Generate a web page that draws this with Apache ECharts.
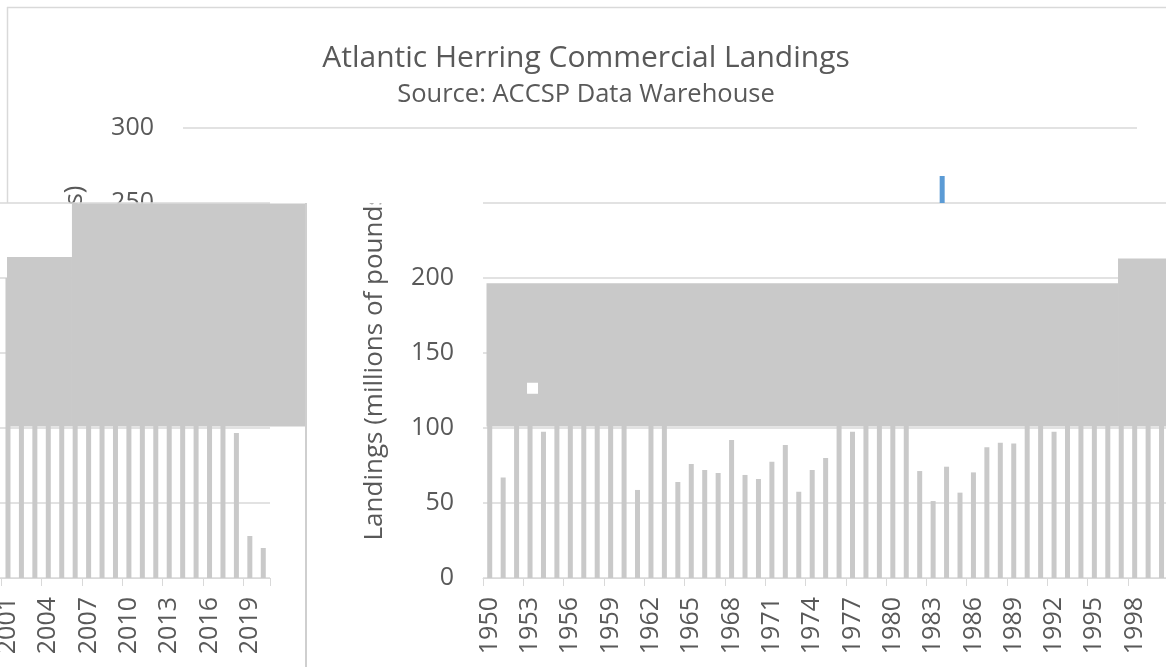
<!DOCTYPE html>
<html>
<head>
<meta charset="utf-8">
<script src="https://cdn.jsdelivr.net/npm/echarts@6/dist/echarts.min.js"></script>
<style>
html,body{margin:0;padding:0;background:#ffffff;overflow:hidden;}
#frame{position:relative;width:1166px;height:667px;overflow:hidden;}
#chart{position:absolute;top:0;height:667px;}
</style>
</head>
<body>
<div id="frame"><div id="chart"></div></div>
<script>
// ---------------- data ----------------
const years = [];
for (let y = 1950; y <= 2020; y++) years.push(String(y));

// Landings, millions of pounds (values hidden under the grey band are estimates)
const landings = [
  130, 67, 150, 160, 97.5, 140, 135, 150, 120, 170,   // 1950-1959
  155, 58.7, 105, 130, 64, 76, 72, 70, 92, 68.7,      // 1960-1969
  66, 77.5, 88.7, 57.5, 72, 80, 110, 97.5, 105, 108,  // 1970-1979
  115, 120, 71.3, 51.3, 74.2, 56.9, 70.4, 87.1, 90.2, 89.6, // 1980-1989
  105, 110, 97.5, 115, 125, 150, 170, 200, 205, 200,  // 1990-1999
  195, 200, 190, 205, 200, 195, 268, 180, 190, 230,   // 2000-2009
  150, 185, 190, 200, 200, 160, 135, 105, 96.7, 28,   // 2010-2019
  20                                                  // 2020
];
const highlightYear = '2006';

const titleText = 'Atlantic Herring Commercial Landings';
const subtitleText = 'Source: ACCSP Data Warehouse';
const yAxisTitle = 'Landings (millions of pounds)';

// grey band segments: grid (1 = right panel, 2 = left panel), category index range, value range
const bandSegments = [
  { grid: 1, fromIdx: 0,    toIdx: 47,   low: 101, high: 196.5 },
  { grid: 1, fromIdx: 47,   toIdx: null, low: 101, high: 213 },
  { grid: 2, fromIdx: null, toIdx: 56,   low: 101, high: 214 },
  { grid: 2, fromIdx: 56,   toIdx: null, low: 101, high: 250 }
];

// ---------------- styles / layout ----------------
const W = 1166, H = 667;
const OX = 700;                 // canvas extends this far left of the visible frame
const CW = OX + 1166 + 300;     // canvas width (right panel runs past the frame)
const CUT = 203;
const FONT = "'Open Sans', 'Noto Sans', sans-serif";
const TXT = '#595959';
const GRID_C = '#d9d9d9';
const BAR_C = '#c9c9c9';
const BLUE = '#5b9bd5';

const el = document.getElementById('chart');
el.style.left = (-OX) + 'px';
el.style.width = CW + 'px';
const chart = echarts.init(el, null, { renderer: 'canvas', width: CW, height: H });

const topBarData = landings.map((v, i) => years[i] === highlightYear ? { value: v, itemStyle: { color: BLUE } } : v);

function xAxisFor(gi, show, z, labelFilter) {
  return {
    type: 'category', gridIndex: gi, data: years, z: z,
    axisLine: { show: show, lineStyle: { color: GRID_C, width: 1 } },
    axisTick: { show: show, length: 8, lineStyle: { color: GRID_C } },
    axisLabel: {
      show: show, rotate: 90, margin: 19, fontSize: 25, color: TXT, fontFamily: FONT,
      interval: (idx) => idx % 3 === 0 && labelFilter(idx)
    },
    splitLine: { show: false }
  };
}
function yAxisFor(gi, min, max, z, extra) {
  return Object.assign({
    type: 'value', gridIndex: gi, min: min, max: max, interval: 50, z: z,
    axisLine: { show: false }, axisTick: { show: false },
    splitLine: { show: true, lineStyle: { color: GRID_C, width: 1.5 } }
  }, extra);
}
function barSeries(gi, data) {
  return {
    type: 'bar', xAxisIndex: gi, yAxisIndex: gi, data: data, barWidth: 5,
    itemStyle: { color: BAR_C }, z: 3, clip: true, animation: false
  };
}

const option = {
  animation: false,
  backgroundColor: '#ffffff',
  title: {
    text: titleText, subtext: subtitleText, left: OX + 581, textAlign: 'center', top: 38, itemGap: 9,
    textStyle: { fontFamily: FONT, fontSize: 30, fontWeight: 'normal', color: TXT },
    subtextStyle: { fontFamily: FONT, fontSize: 25.5, color: TXT }
  },
  grid: [
    { left: OX + 183, top: 128, width: 954, height: 75 },
    { left: OX + 483, top: CUT, width: 954, height: 375 },
    { left: OX - 684, top: CUT, width: 954, height: 375 }
  ],
  xAxis: [
    xAxisFor(0, false, 0, () => false),
    xAxisFor(1, true, 2, (i) => i <= 50),
    xAxisFor(2, true, 2, (i) => i >= 51)
  ],
  yAxis: [
    yAxisFor(0, 250, 300, 0, {
      splitLine: { show: true, showMinLine: false, lineStyle: { color: GRID_C, width: 1.5 } },
      axisLabel: { margin: 29, fontSize: 25, color: TXT, fontFamily: FONT }
    }),
    yAxisFor(1, 0, 250, 2, {
      axisLabel: { margin: 29, fontSize: 25, color: TXT, fontFamily: FONT, showMaxLabel: false }
    }),
    yAxisFor(2, 0, 250, 2, { axisLabel: { show: false } })
  ],
  series: [barSeries(0, topBarData), barSeries(1, landings), barSeries(2, landings)]
};
chart.setOption(option);

// ---------- overlay elements positioned through the axes ----------
const px = (g, idx, val) => chart.convertToPixel({ xAxisIndex: g, yAxisIndex: g }, [idx, val]);
const bw = px(1, 1, 0)[0] - px(1, 0, 0)[0];
const LEFT_EDGE = OX + 7, LEFT_PANEL_END = OX + 305;
const graphics = [];

const titleMidY = (px(1, 0, 0)[1] + px(0, 0, 300)[1]) / 2 + 10;
// axis title, unshifted copy (only its top end shows above the cut)
graphics.push({
  type: 'text', z: 0, x: OX + 75, y: titleMidY, rotation: Math.PI / 2,
  style: { text: yAxisTitle, fontFamily: FONT, fontSize: 26, fill: TXT, align: 'center', verticalAlign: 'middle' }
});
// white ground of the left strip below the cut
graphics.push({ type: 'rect', z: 1, shape: { x: OX, y: CUT + 0.5, width: 306, height: H - CUT }, style: { fill: '#ffffff' } });
// axis title, shifted copy
graphics.push({
  type: 'text', z: 0, x: OX + 375, y: titleMidY, rotation: Math.PI / 2,
  style: { text: yAxisTitle, fontFamily: FONT, fontSize: 26, fill: TXT, align: 'center', verticalAlign: 'middle' }
});
graphics.push({ type: 'rect', z: 5, shape: { x: OX + 350, y: 140, width: 55, height: CUT - 140 + 0.5 }, style: { fill: '#ffffff' } });

// grey band
bandSegments.forEach(s => {
  const x0 = s.fromIdx === null ? LEFT_EDGE : px(s.grid, s.fromIdx, 0)[0] - bw / 2 + 3.5;
  const x1 = s.toIdx === null ? (s.grid === 1 ? OX + W : LEFT_PANEL_END) : px(s.grid, s.toIdx, 0)[0] - bw / 2 + 3.5;
  const yTop = Math.max(px(s.grid, 0, s.high)[1], CUT + 0.5);
  const yBot = px(s.grid, 0, s.low)[1];
  graphics.push({ type: 'rect', z: 4, shape: { x: x0, y: yTop, width: x1 - x0, height: yBot - yTop }, style: { fill: BAR_C } });
});
// small white speck in the band
const sp = px(1, 3, 126.5);
graphics.push({ type: 'rect', z: 5, shape: { x: sp[0] - 3, y: sp[1] - 5.5, width: 11, height: 11 }, style: { fill: '#ffffff' } });

// chart frame pieces
graphics.push({ type: 'line', z: 6, shape: { x1: OX + 7, y1: 7.5, x2: OX + W, y2: 7.5 }, style: { stroke: GRID_C, lineWidth: 1.5 } });
graphics.push({ type: 'line', z: 6, shape: { x1: OX + 7.5, y1: 7, x2: OX + 7.5, y2: CUT }, style: { stroke: GRID_C, lineWidth: 1.5 } });
graphics.push({ type: 'line', z: 6, shape: { x1: LEFT_PANEL_END + 1, y1: CUT, x2: LEFT_PANEL_END + 1, y2: H }, style: { stroke: '#cfcfcf', lineWidth: 2 } });

chart.setOption({ graphic: graphics });
</script>
</body>
</html>
